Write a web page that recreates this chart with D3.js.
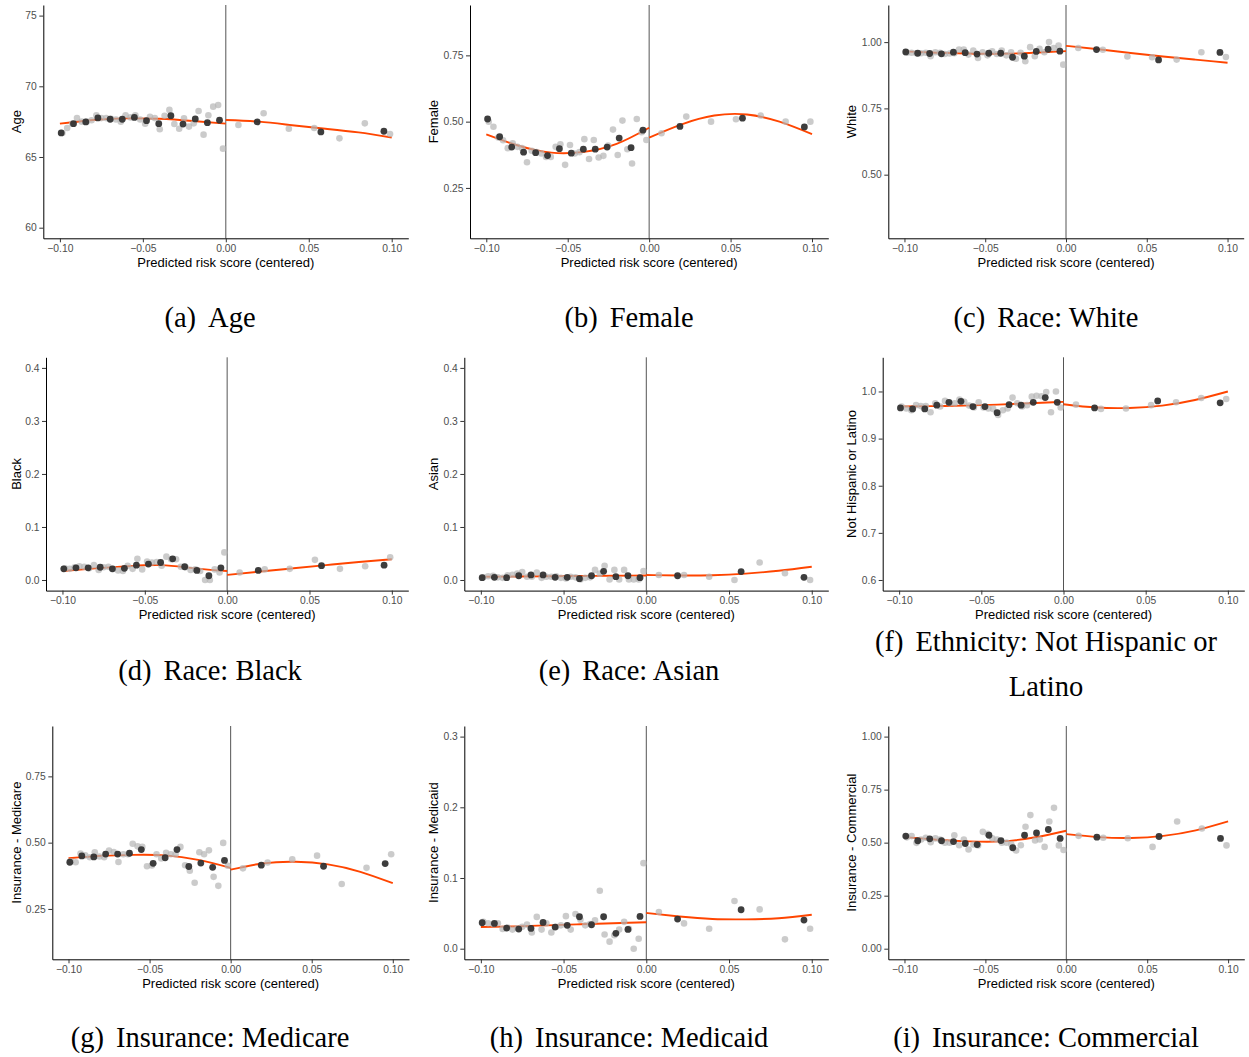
<!DOCTYPE html>
<html>
<head>
<meta charset="utf-8">
<script src="https://cdn.jsdelivr.net/npm/d3@7"></script>
<style>
  body { margin: 0; background: #fff; }
  svg text { font-family: "Liberation Sans", Arial, Helvetica, sans-serif; }
  .tick text { fill: #4d4d4d; font-size: 10.3px; }
  .tick line { stroke: #333; }
  .domain { stroke: #000; }
  .axis-title { font-size: 13px; fill: #000; }
  .caption { font-family: "Liberation Serif", "Times New Roman", serif !important; font-size: 28.5px; fill: #000; }
</style>
</head>
<body>
<svg id="chart" width="1249" height="1057"></svg>
<script>
// shared x positions (bins) -------------------------------------------
var darkX = [-0.0992, -0.0918, -0.0844, -0.0771, -0.0697, -0.0624, -0.0551, -0.0478, -0.0404,
             -0.0331, -0.0258, -0.0184, -0.0111, -0.0038, 0.0189, 0.0573, 0.0953];
var grayX = [-0.0985, -0.0956, -0.0926, -0.0897, -0.0868, -0.0838, -0.0809, -0.0780, -0.0750,
             -0.0721, -0.0692, -0.0662, -0.0633, -0.0604, -0.0574, -0.0545, -0.0516, -0.0486,
             -0.0457, -0.0428, -0.0398, -0.0369, -0.0340, -0.0310, -0.0281, -0.0252, -0.0222,
             -0.0193, -0.0164, -0.0134, -0.0105, -0.0076, -0.0046, -0.0017,
             0.0076, 0.0228, 0.0380, 0.0533, 0.0685, 0.0838, 0.0990];
var fitLeftX = [-0.10, -0.08, -0.06, -0.04, -0.02, 0.00];
var fitRightX = [0.00, 0.02, 0.04, 0.06, 0.08, 0.10];
var xTicks = [-0.10, -0.05, 0.00, 0.05, 0.10];
var xTitle = "Predicted risk score (centered)";

// (a) Age
var ageDark = [66.70, 67.36, 67.48, 67.76, 67.67, 67.67, 67.80, 67.57, 67.36, 67.92, 67.33, 67.69, 67.43, 67.60,
               67.48, 66.77, 66.82];
var ageGray = [66.70, 67.05, 67.35, 67.75, 67.50, 67.50, 67.60, 67.95, 67.75, 67.75, 67.70, 67.65, 67.50, 67.95,
               67.80, 67.95, 67.65, 67.35, 67.85, 67.75, 66.96, 67.92, 68.33, 67.33, 67.00, 67.74, 67.15, 67.38,
               68.25, 66.58, 67.95, 68.56, 68.68, 65.59,
               67.26, 68.09, 67.00, 67.05, 66.32, 67.38, 66.63];
var ageFitL = [67.36, 67.62, 67.73, 67.70, 67.55, 67.36];
var ageFitR = [67.62, 67.50, 67.25, 67.00, 66.74, 66.38];
var ageTicks = [60, 65, 70, 75];

// (b) Female
var femDark = [0.510, 0.443, 0.404, 0.385, 0.383, 0.372, 0.398, 0.381, 0.396, 0.396, 0.404, 0.438, 0.402, 0.468,
               0.482, 0.513, 0.480];
var femGray = [0.500, 0.481, 0.440, 0.430, 0.400, 0.418, 0.405, 0.400, 0.347, 0.390, 0.385, 0.380, 0.367, 0.367,
               0.405, 0.415, 0.337, 0.412, 0.380, 0.385, 0.434, 0.359, 0.431, 0.365, 0.371, 0.410, 0.470, 0.374,
               0.504, 0.396, 0.342, 0.510, 0.460, 0.431,
               0.456, 0.519, 0.500, 0.509, 0.523, 0.500, 0.500];
var femFitL = [0.452, 0.409, 0.383, 0.386, 0.416, 0.477];
var femFitR = [0.440, 0.490, 0.523, 0.527, 0.500, 0.453];
var femTicks = [0.25, 0.50, 0.75];

// (c) Race: White
var whiteDark = [0.963, 0.958, 0.957, 0.956, 0.962, 0.960, 0.955, 0.958, 0.958, 0.943, 0.947, 0.965, 0.973, 0.966,
                 0.972, 0.933, 0.961];
var whiteGray = [0.960, 0.960, 0.958, 0.958, 0.960, 0.947, 0.962, 0.960, 0.955, 0.957, 0.958, 0.972, 0.972, 0.953,
                 0.968, 0.940, 0.962, 0.950, 0.965, 0.955, 0.968, 0.950, 0.962, 0.937, 0.960, 0.928, 0.981, 0.947,
                 0.975, 0.962, 1.000, 0.978, 0.987, 0.915,
                 0.978, 0.971, 0.946, 0.943, 0.934, 0.962, 0.944];
var whiteFitL = [0.965, 0.960, 0.957, 0.956, 0.960, 0.966];
var whiteFitR = [0.986, 0.973, 0.959, 0.946, 0.934, 0.922];
var whiteTicks = [0.50, 0.75, 1.00];

// (d) Race: Black
var blackDark = [0.021, 0.023, 0.023, 0.024, 0.021, 0.022, 0.028, 0.030, 0.033, 0.040, 0.025, 0.018, 0.008, 0.023,
                 0.018, 0.027, 0.028];
var blackGray = [0.022, 0.021, 0.024, 0.026, 0.025, 0.022, 0.028, 0.019, 0.024, 0.025, 0.021, 0.018, 0.017, 0.027,
                 0.021, 0.040, 0.020, 0.035, 0.033, 0.034, 0.027, 0.044, 0.039, 0.039, 0.025, 0.024, 0.019, 0.020,
                 0.017, 0.000, 0.000, 0.020, 0.014, 0.052,
                 0.014, 0.020, 0.021, 0.038, 0.021, 0.026, 0.043];
var blackFitL = [0.017, 0.022, 0.026, 0.028, 0.022, 0.017];
var blackFitR = [0.0095, 0.016, 0.022, 0.028, 0.034, 0.039];
var blackTicks = [0.0, 0.1, 0.2, 0.3, 0.4];

// (e) Race: Asian
var asianDark = [0.0044, 0.0050, 0.0044, 0.0080, 0.0095, 0.0095, 0.0050, 0.0050, 0.0025, 0.0080, 0.0164, 0.0063,
                 0.0080, 0.0044, 0.0080, 0.0158, 0.0050];
var asianGray = [0.005, 0.007, 0.008, 0.005, 0.004, 0.009, 0.010, 0.012, 0.015, 0.006, 0.006, 0.014, 0.004, 0.006,
                 0.006, 0.007, 0.004, 0.003, 0.006, 0.005, 0.001, 0.004, 0.005, 0.019, 0.012, 0.027, 0.001, 0.019,
                 0.001, 0.019, 0.001, 0.001, 0.001, 0.017,
                 0.0095, 0.0095, 0.006, 0.000, 0.033, 0.0126, 0.000];
var asianFitL = [0.0060, 0.0065, 0.0070, 0.0075, 0.0080, 0.0085];
var asianFitR = [0.0095, 0.0085, 0.0090, 0.0120, 0.0175, 0.0250];
var asianTicks = [0.0, 0.1, 0.2, 0.3, 0.4];

// (f) Ethnicity: Not Hispanic or Latino
var hispDark = [0.965, 0.963, 0.963, 0.971, 0.977, 0.979, 0.968, 0.968, 0.955, 0.972, 0.971, 0.977, 0.987, 0.977,
                0.965, 0.980, 0.976];
var hispGray = [0.968, 0.964, 0.960, 0.971, 0.969, 0.969, 0.956, 0.975, 0.968, 0.980, 0.975, 0.975, 0.983, 0.978,
                0.970, 0.966, 0.977, 0.966, 0.964, 0.963, 0.950, 0.960, 0.964, 0.987, 0.975, 0.968, 0.971, 0.989,
                0.991, 0.990, 0.999, 0.956, 1.000, 0.966,
                0.972, 0.963, 0.964, 0.971, 0.977, 0.986, 0.984];
var hispFitL = [0.968, 0.969, 0.970, 0.972, 0.975, 0.978];
var hispFitR = [0.973, 0.966, 0.965, 0.970, 0.982, 1.000];
var hispTicks = [0.6, 0.7, 0.8, 0.9, 1.0];

// (g) Insurance: Medicare
var mcareDark = [0.426, 0.450, 0.446, 0.457, 0.457, 0.460, 0.474, 0.422, 0.443, 0.474, 0.410, 0.423, 0.407, 0.433,
                 0.415, 0.411, 0.421];
var mcareGray = [0.430, 0.426, 0.459, 0.452, 0.445, 0.464, 0.448, 0.445, 0.470, 0.465, 0.427, 0.456, 0.456, 0.496,
                 0.486, 0.484, 0.411, 0.414, 0.456, 0.440, 0.462, 0.456, 0.456, 0.484, 0.415, 0.394, 0.349, 0.464,
                 0.456, 0.471, 0.371, 0.337, 0.499, 0.413,
                 0.403, 0.425, 0.437, 0.451, 0.344, 0.405, 0.456];
var mcareFitL = [0.441, 0.450, 0.454, 0.452, 0.435, 0.405];
var mcareFitR = [0.398, 0.422, 0.428, 0.418, 0.390, 0.347];
var mcareTicks = [0.25, 0.50, 0.75];

// (h) Insurance: Medicaid
var mcaidDark = [0.0367, 0.0358, 0.0292, 0.0278, 0.0287, 0.0372, 0.0306, 0.0330, 0.0452, 0.0339, 0.0452, 0.0217,
                 0.0273, 0.0457, 0.0419, 0.0551, 0.0405];
var mcaidGray = [0.038, 0.036, 0.035, 0.036, 0.028, 0.030, 0.027, 0.029, 0.031, 0.034, 0.023, 0.045, 0.027, 0.036,
                 0.023, 0.031, 0.033, 0.046, 0.027, 0.049, 0.041, 0.033, 0.035, 0.040, 0.082, 0.020, 0.010, 0.019,
                 0.027, 0.038, 0.028, 0.000, 0.014, 0.121,
                 0.0518, 0.0358, 0.0283, 0.0674, 0.0556, 0.0132, 0.0283];
var mcaidFitL = [0.0306, 0.0315, 0.0330, 0.0345, 0.0360, 0.0375];
var mcaidFitR = [0.0505, 0.0455, 0.0420, 0.0415, 0.0430, 0.0480];
var mcaidTicks = [0.0, 0.1, 0.2, 0.3];

// (i) Insurance: Commercial
var commDark = [0.531, 0.509, 0.518, 0.509, 0.505, 0.496, 0.491, 0.535, 0.510, 0.476, 0.535, 0.546, 0.562, 0.520,
                0.526, 0.529, 0.520];
var commGray = [0.525, 0.531, 0.499, 0.515, 0.523, 0.502, 0.520, 0.515, 0.500, 0.500, 0.535, 0.488, 0.515, 0.468,
                0.491, 0.487, 0.551, 0.542, 0.520, 0.515, 0.500, 0.500, 0.492, 0.463, 0.488, 0.575, 0.630, 0.510,
                0.515, 0.480, 0.600, 0.664, 0.487, 0.465,
                0.532, 0.523, 0.521, 0.480, 0.600, 0.567, 0.487];
var commFitL = [0.526, 0.514, 0.506, 0.506, 0.524, 0.556];
var commFitR = [0.540, 0.526, 0.522, 0.532, 0.558, 0.600];
var commTicks = [0.00, 0.25, 0.50, 0.75, 1.00];

var panels = [
    { label: "(a)", caption: ["Age"], yTitle: "Age", dark: ageDark, gray: ageGray,
      fitL: ageFitL, fitR: ageFitR, ylim: [60, 75], ticks: ageTicks, fmt: "d" },
    { label: "(b)", caption: ["Female"], yTitle: "Female", dark: femDark, gray: femGray,
      fitL: femFitL, fitR: femFitR, ylim: [0.1, 0.9], ticks: femTicks, fmt: ".2f" },
    { label: "(c)", caption: ["Race: White"], yTitle: "White", dark: whiteDark, gray: whiteGray,
      fitL: whiteFitL, fitR: whiteFitR, ylim: [0.3, 1.1], ticks: whiteTicks, fmt: ".2f" },
    { label: "(d)", caption: ["Race: Black"], yTitle: "Black", dark: blackDark, gray: blackGray,
      fitL: blackFitL, fitR: blackFitR, ylim: [0, 0.4], ticks: blackTicks, fmt: ".1f" },
    { label: "(e)", caption: ["Race: Asian"], yTitle: "Asian", dark: asianDark, gray: asianGray,
      fitL: asianFitL, fitR: asianFitR, ylim: [0, 0.4], ticks: asianTicks, fmt: ".1f" },
    { label: "(f)", caption: ["Ethnicity: Not Hispanic or", "Latino"], yTitle: "Not Hispanic or Latino",
      dark: hispDark, gray: hispGray, fitL: hispFitL, fitR: hispFitR, ylim: [0.6, 1.05], ticks: hispTicks, fmt: ".1f" },
    { label: "(g)", caption: ["Insurance: Medicare"], yTitle: "Insurance - Medicare", dark: mcareDark, gray: mcareGray,
      fitL: mcareFitL, fitR: mcareFitR, ylim: [0.1, 0.9], ticks: mcareTicks, fmt: ".2f" },
    { label: "(h)", caption: ["Insurance: Medicaid"], yTitle: "Insurance - Medicaid", dark: mcaidDark, gray: mcaidGray,
      fitL: mcaidFitL, fitR: mcaidFitR, ylim: [0, 0.3], ticks: mcaidTicks, fmt: ".1f" },
    { label: "(i)", caption: ["Insurance: Commercial"], yTitle: "Insurance - Commercial", dark: commDark, gray: commGray,
      fitL: commFitL, fitR: commFitR, ylim: [0, 1], ticks: commTicks, fmt: ".2f" }
];

// layout -----------------------------------------------------------------
var plotLeft = [43.3, 470, 888.3, 46, 464.3, 882.7, 52.3, 464.3, 888.3]
  , plotRight = [408.3, 828.3, 1243.7, 408.3, 828.3, 1244.3, 409, 828.3, 1244.3]
  , rowTop = [5, 357.3, 726]
  , plotHeight = 233.3
  , yTitleX = [16, 433.6, 851.5]
  , captionX = [210, 629, 1046]
  , captionY = [327, 680, 1047]
;

var svg = d3.select("#chart");

function drawPanel(p, i) {
    var col = i % 3
      , row = Math.floor(i / 3)
      , top = rowTop[row]
      , bottom = top + plotHeight
      , pad = 0.05 * (p.ylim[1] - p.ylim[0])
      , x = d3.scaleLinear().domain([-0.11, 0.11]).range([plotLeft[i], plotRight[i]])
      , y = d3.scaleLinear().domain([p.ylim[0] - pad, p.ylim[1] + pad]).range([bottom, top])
      , g = svg.append("g").attr("class", "panel")
    ;

    // cutoff line
    g.append("line")
        .attr("x1", x(0)).attr("x2", x(0))
        .attr("y1", top).attr("y2", bottom)
        .attr("stroke", "#2a2a2a")
        .attr("stroke-width", 0.8)
    ;

    // fitted curves, one each side of the cutoff
    var line = d3.line()
        .x(function(d) { return x(d[0]); })
        .y(function(d) { return y(d[1]); })
        .curve(d3.curveNatural)
    ;
    [d3.zip(fitLeftX, p.fitL), d3.zip(fitRightX, p.fitR)].forEach(function(seg) {
        g.append("path")
            .datum(seg)
            .attr("d", line)
            .attr("fill", "none")
            .attr("stroke", "#ff4500")
            .attr("stroke-width", 1.9)
        ;
    });

    // fine bins (light) then coarse bins (dark)
    g.append("g").selectAll("circle")
        .data(d3.zip(grayX, p.gray))
      .enter().append("circle")
        .attr("cx", function(d) { return x(d[0]); })
        .attr("cy", function(d) { return y(d[1]); })
        .attr("r", 3.3)
        .attr("fill", "#b5b5b5")
        .attr("fill-opacity", 0.7)
    ;
    g.append("g").selectAll("circle")
        .data(d3.zip(darkX, p.dark))
      .enter().append("circle")
        .attr("cx", function(d) { return x(d[0]); })
        .attr("cy", function(d) { return y(d[1]); })
        .attr("r", 3.4)
        .attr("fill", "#333")
        .attr("fill-opacity", 0.95)
    ;

    // axes
    g.append("g")
        .attr("transform", "translate(0," + bottom + ")")
        .call(d3.axisBottom(x).tickValues(xTicks).tickFormat(d3.format(".2f"))
            .tickSize(4).tickSizeOuter(0).tickPadding(2.5))
    ;
    g.append("g")
        .attr("transform", "translate(" + plotLeft[i] + ",0)")
        .call(d3.axisLeft(y).tickValues(p.ticks).tickFormat(d3.format(p.fmt))
            .tickSize(4).tickSizeOuter(0).tickPadding(2.5))
    ;
    g.selectAll(".tick text").attr("font-family", null).attr("font-size", null);
    g.selectAll(".domain").attr("stroke-width", 1);

    // axis titles
    g.append("text")
        .attr("class", "axis-title")
        .attr("x", (plotLeft[i] + plotRight[i]) / 2)
        .attr("y", bottom + 28.4)
        .attr("text-anchor", "middle")
        .text(xTitle)
    ;
    g.append("text")
        .attr("class", "axis-title")
        .attr("transform", "translate(" + yTitleX[col] + "," + (top + bottom) / 2 + ") rotate(-90)")
        .attr("dy", "0.35em")
        .attr("text-anchor", "middle")
        .text(p.yTitle)
    ;

    // sub-figure caption
    var lines = p.caption
      , baseY = captionY[row] - (lines.length - 1) * 29.5
    ;
    lines.forEach(function(txt, k) {
        var t = g.append("text")
            .attr("class", "caption")
            .attr("x", captionX[col])
            .attr("y", baseY + k * 45)
            .attr("text-anchor", "middle")
        ;
        if (k === 0) {
            t.append("tspan").text(p.label);
            t.append("tspan").attr("dx", 12).text(txt);
        } else {
            t.text(txt);
        }
    });
} // drawPanel()

panels.forEach(drawPanel);
</script>
</body>
</html>
